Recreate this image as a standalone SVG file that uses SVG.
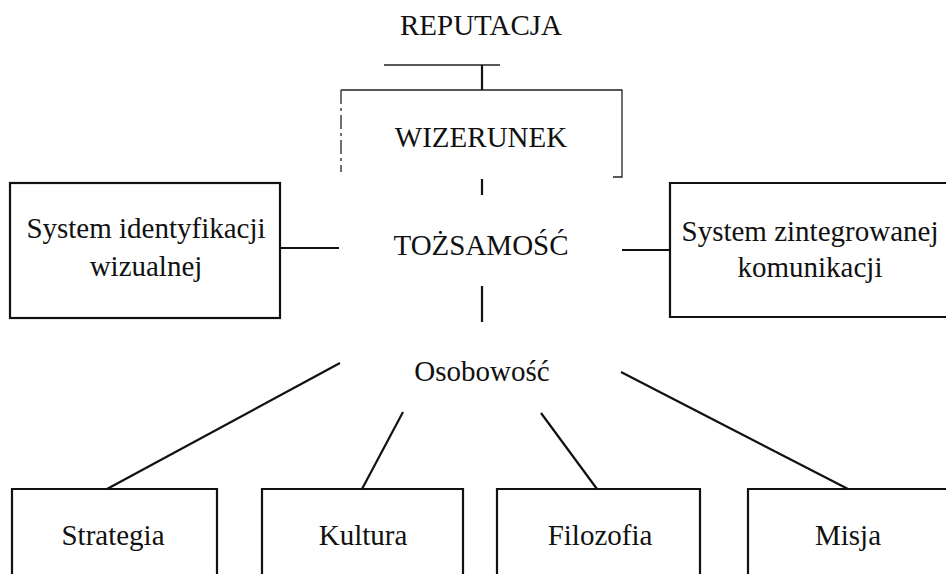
<svg xmlns="http://www.w3.org/2000/svg" width="946" height="574" viewBox="0 0 946 574">
<style>
text{font-family:"Liberation Serif","DejaVu Serif",serif;font-size:29px;fill:#111;text-anchor:middle}
.box{fill:none;stroke:#111;stroke-width:2.2}
.ln{stroke:#111;stroke-width:2.2;fill:none}
.thin{stroke:#222;stroke-width:1.3;fill:none}
</style>
<rect width="946" height="574" fill="#fff"/>
<g id="reputacja"><text x="481" y="35">REPUTACJA</text></g>
<g id="wizerunek">
<path class="thin" d="M341,90 H622 V177 H613"/>
<path class="thin" d="M341,90 V172" stroke-dasharray="14,4,3,4" stroke="#666"/>
<text x="481" y="147">WIZERUNEK</text>
</g>
<g id="tozsamosc"><text x="481" y="255">TOŻSAMOŚĆ</text></g>
<g id="sys-ident">
<rect class="box" x="10" y="183" width="270" height="135"/>
<text x="146" y="238">System identyfikacji</text>
<text x="146" y="276">wizualnej</text>
</g>
<g id="sys-kom">
<path class="box" d="M950,183 H670 V317 H950"/>
<text x="810" y="241">System zintegrowanej</text>
<text x="810" y="277">komunikacji</text>
</g>
<g id="osobowosc"><text x="482" y="381">Osobowość</text></g>
<g id="strategia">
<path class="box" d="M12,580 V489 H217 V580"/>
<text x="113" y="545">Strategia</text>
</g>
<g id="kultura">
<path class="box" d="M262,580 V489 H463 V580"/>
<text x="363" y="545">Kultura</text>
</g>
<g id="filozofia">
<path class="box" d="M497,580 V489 H700 V580"/>
<text x="600" y="545">Filozofia</text>
</g>
<g id="misja">
<path class="box" d="M748,580 V489 H950"/>
<text x="848" y="545">Misja</text>
</g>
<g id="connectors">
<line class="thin" x1="384" y1="65" x2="500" y2="65"/>
<line class="ln" x1="482" y1="65" x2="482" y2="90" stroke-width="4"/>
<line class="ln" x1="482" y1="179" x2="482" y2="195" stroke-width="2.6"/>
<line class="ln" x1="482" y1="286" x2="482" y2="322" stroke-width="2.6"/>
<line class="ln" x1="280" y1="248" x2="339" y2="248"/>
<line class="ln" x1="622" y1="250" x2="670" y2="250"/>
<line class="ln" x1="340" y1="363" x2="107" y2="489"/>
<line class="ln" x1="403" y1="412" x2="362" y2="489"/>
<line class="ln" x1="541" y1="413" x2="597" y2="489"/>
<line class="ln" x1="621" y1="372" x2="848" y2="489"/>
</g>
</svg>
